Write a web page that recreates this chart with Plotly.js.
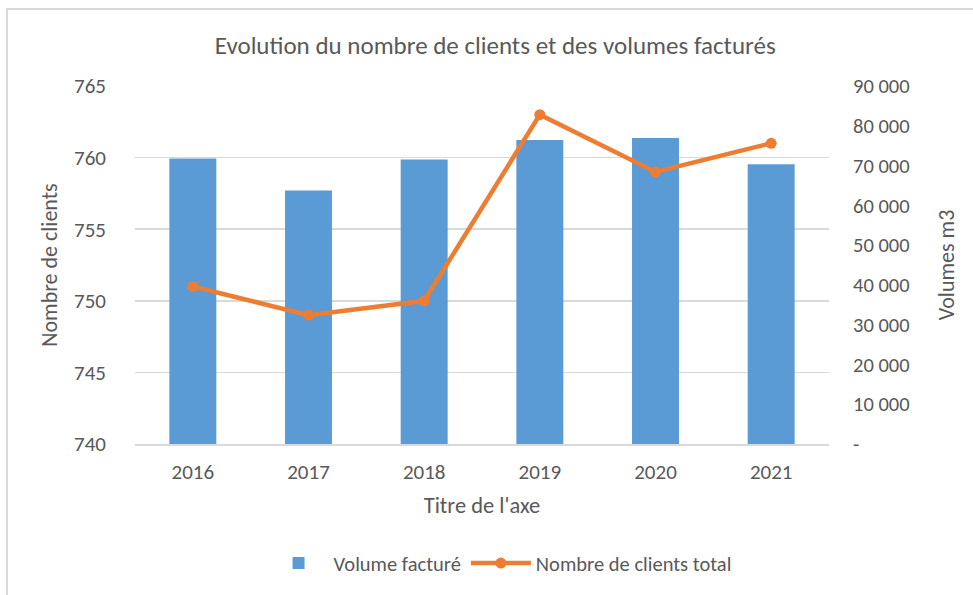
<!DOCTYPE html>
<html>
<head>
<meta charset="utf-8">
<script src="https://cdn.plot.ly/plotly-3.0.1.min.js"></script>
<style>
  html, body { margin: 0; padding: 0; background: #fff; }
  #wrap { position: relative; width: 973px; height: 595px; }
  #chart { width: 973px; height: 595px; }
  #frame { position: absolute; left: 6px; top: 8px; right: 0; bottom: 0;
           border-left: 2px solid #d9d9d9; border-top: 2px solid #d9d9d9; pointer-events: none; }
</style>
</head>
<body>
<div id="wrap">
  <div id="chart"></div>
  <div id="frame"></div>
</div>
<script>
const years = ["2016", "2017", "2018", "2019", "2020", "2021"];
const volumes = [71750, 63750, 71500, 76400, 76900, 70300];
const clients = [751, 749, 750, 763, 759, 761];
const volTickVals = [0, 10000, 20000, 30000, 40000, 50000, 60000, 70000, 80000, 90000];
const volTickText = ["-", "10 000", "20 000", "30 000", "40 000", "50 000", "60 000", "70 000", "80 000", "90 000"];

const FONT = "Carlito, Lato, 'Open Sans', sans-serif";
const GREY = "#595959";

const traces = [
  {
    type: "bar",
    name: "Volume facturé",
    x: years,
    y: volumes,
    yaxis: "y",
    marker: { color: "#5B9BD5", line: { width: 0 } }
  },
  {
    type: "scatter",
    mode: "lines+markers",
    name: "Nombre de clients total",
    x: years,
    y: clients,
    yaxis: "y2",
    line: { color: "#ED7D31", width: 4.5 },
    marker: { color: "#ED7D31", size: 11 }
  }
];

const layout = {
  width: 973,
  height: 595,
  margin: { l: 135, r: 144, t: 86, b: 149 },
  paper_bgcolor: "#ffffff",
  plot_bgcolor: "#ffffff",
  font: { family: FONT, color: GREY, size: 20 },
  title: {
    text: "Evolution du nombre de clients et des volumes facturés",
    font: { family: FONT, size: 25, color: GREY },
    xref: "container", x: 0.509, xanchor: "center",
    yref: "container", y: 1 - 45 / 595, yanchor: "middle"
  },
  bargap: 0.594,
  showlegend: true,
  legend: {
    orientation: "h",
    x: 0.526, xanchor: "center",
    y: -0.333, yanchor: "middle",
    font: { family: FONT, size: 20.5, color: GREY },
    itemwidth: 60
  },
  xaxis: {
    type: "category",
    showgrid: false,
    showline: true,
    linecolor: "#d9d9d9",
    linewidth: 1.5,
    ticks: "",
    ticklabelstandoff: 8,
    tickfont: { family: FONT, size: 21, color: GREY },
    title: { text: "Titre de l'axe", font: { family: FONT, size: 22.5, color: GREY }, standoff: 13 }
  },
  yaxis: {
    side: "right",
    range: [0, 90000],
    tickvals: volTickVals,
    ticktext: volTickText,
    showgrid: false,
    zeroline: false,
    showline: false,
    ticks: "",
    ticklabelstandoff: 23,
    tickfont: { family: FONT, size: 20.5, color: GREY },
    title: { text: "Volumes m3", font: { family: FONT, size: 22, color: GREY }, standoff: 30 }
  },
  yaxis2: {
    side: "left",
    overlaying: "y",
    range: [740, 765],
    dtick: 5,
    tick0: 740,
    showgrid: true,
    gridcolor: "#d9d9d9",
    gridwidth: 1.5,
    zeroline: false,
    showline: false,
    ticks: "",
    ticklabelstandoff: 28,
    tickfont: { family: FONT, size: 21, color: GREY },
    title: { text: "Nombre de clients", font: { family: FONT, size: 22, color: GREY }, standoff: 10 }
  }
};

Plotly.newPlot("chart", traces, layout, { displayModeBar: false, staticPlot: true });
</script>
</body>
</html>
